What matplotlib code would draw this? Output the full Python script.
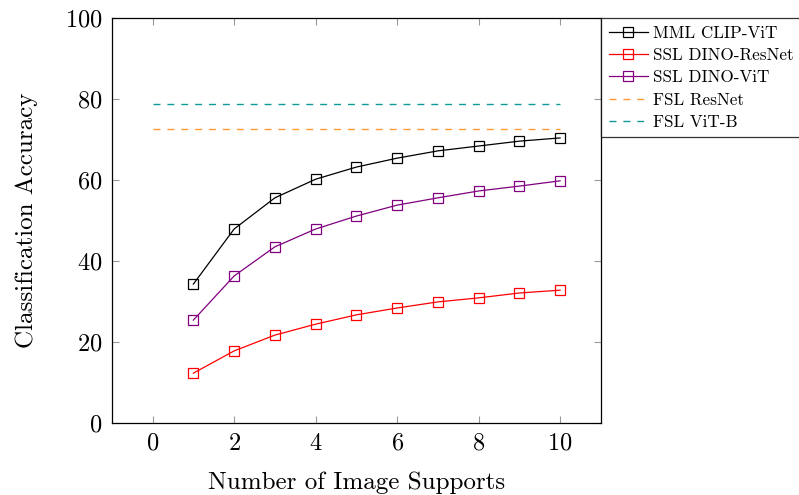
import numpy as np
import matplotlib
matplotlib.use('Agg')
import matplotlib.pyplot as plt

plt.rcParams['font.family'] = ['cmr10', 'DejaVu Serif']
plt.rcParams['axes.formatter.use_mathtext'] = True
plt.rcParams['mathtext.fontset'] = 'cm'

# data
supports = [1, 2, 3, 4, 5, 6, 7, 8, 9, 10]
mml_clip_vit = [34.3, 47.9, 55.6, 60.2, 63.2, 65.4, 67.2, 68.4, 69.6, 70.4]
ssl_dino_resnet = [12.3, 17.8, 21.7, 24.4, 26.7, 28.4, 29.9, 30.9, 32.1, 32.8]
ssl_dino_vit = [25.4, 36.3, 43.5, 47.9, 51.1, 53.8, 55.6, 57.3, 58.5, 59.8]
fsl_range = [0, 10]
fsl_resnet = 72.6
fsl_vitb = 78.8

fig = plt.figure(figsize=(7.99, 4.95), dpi=100)
ax = fig.add_axes([0.140, 0.1455, 0.612, 0.818])

mk = dict(marker='s', markerfacecolor='none', markersize=7, lw=0.9, markeredgewidth=0.9)
ax.plot(supports, mml_clip_vit, color='black', label='MML CLIP-ViT', **mk)
ax.plot(supports, ssl_dino_resnet, color='red', label='SSL DINO-ResNet', **mk)
ax.plot(supports, ssl_dino_vit, color='#800080', label='SSL DINO-ViT', **mk)
ax.plot(fsl_range, [fsl_resnet] * 2, color='#ff9933', ls=(0, (5, 5)), lw=1.0, label='FSL ResNet')
ax.plot(fsl_range, [fsl_vitb] * 2, color='#119999', ls=(0, (5, 5)), lw=1.0, label='FSL ViT-B')

ax.set_xlim(-1, 11)
ax.set_ylim(0, 100)
ax.set_xticks([0, 2, 4, 6, 8, 10])
ax.set_yticks([0, 20, 40, 60, 80, 100])
ax.tick_params(direction='in', length=5, color='#999999', labelsize=17.5, top=True, right=True, pad=7)
for s in ax.spines.values():
    s.set_linewidth(0.9)

ax.set_xlabel('Number of Image Supports', fontsize=18, labelpad=12)
ax.set_ylabel('Classification Accuracy', fontsize=18, labelpad=19)

leg = ax.legend(loc='upper left', bbox_to_anchor=(1.0, 1.0), fontsize=12.3, frameon=True,
                fancybox=False, borderaxespad=0, handlelength=2.3, labelspacing=0.4,
                handletextpad=0.3, borderpad=0.45)
leg.get_frame().set_edgecolor('black')
leg.get_frame().set_linewidth(0.9)

fig.savefig('out.png', dpi=100)
